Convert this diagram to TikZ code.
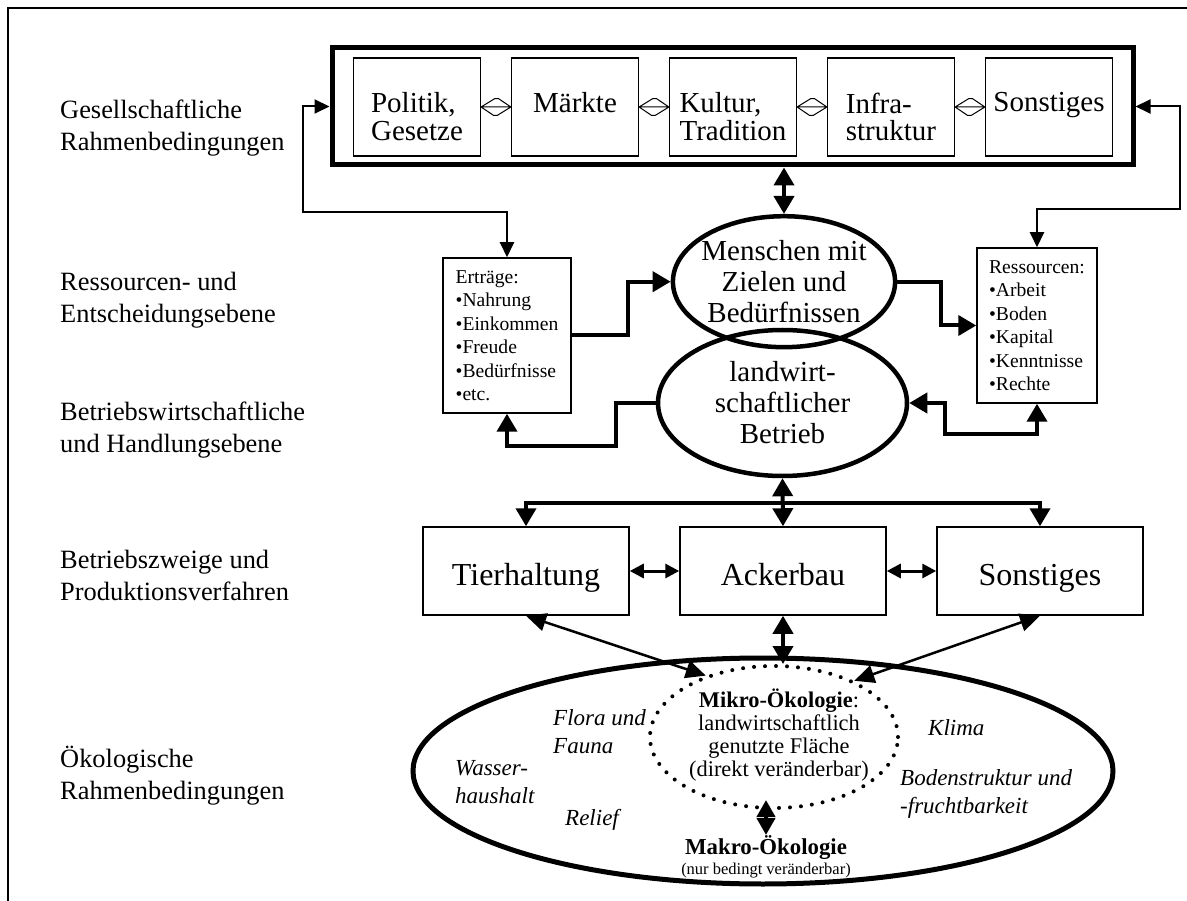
\documentclass[tikz,border=0pt]{standalone}
\usepackage{fontspec}
\setmainfont{Liberation Serif}
\usetikzlibrary{shapes.geometric, arrows.meta}

\tikzset{
  level/.style={anchor=north west, align=left, inner sep=0pt, font=\fontsize{26.4}{31.5}\selectfont},
  outer box/.style={draw, line width=5pt, minimum width=801pt, minimum height=117pt, inner sep=0pt},
  inner box/.style={draw, line width=1.2pt, minimum width=127pt, minimum height=98pt, inner sep=0pt},
  inner text/.style={anchor=north, align=left, inner sep=0pt, font=\fontsize{29}{27.5}\selectfont},
  hollow/.style={line width=1pt, line join=miter,
    to path={-- ++(13.5,-8.3) -- ++(4,0) -- (\tikztotarget) -- ++(-13.5,8.3) -- ++(-4,0) -- cycle
             (\tikztostart) -- (\tikztotarget)}},
  ellipse node/.style={ellipse, draw, line width=4.5pt, align=center, inner sep=0pt, inner xsep=-4pt, font=\fontsize{29}{31}\selectfont},
  list box/.style={draw, line width=1.5pt, align=left, inner sep=0pt, font=\fontsize{19.6}{23.5}\selectfont},
  branch box/.style={draw, line width=1.5pt, minimum width=206pt, minimum height=88pt, inner sep=0pt, text height=28pt, text depth=0pt, font=\fontsize{32}{36}\selectfont},
  eco ellipse/.style={ellipse, draw, line width=5pt, minimum width=700pt, minimum height=226pt},
  micro ellipse/.style={ellipse, draw, line width=4pt, line cap=round, dash pattern=on 0pt off 11pt, minimum width=248pt, minimum height=142pt},
  micro text/.style={anchor=north, align=center, inner sep=0pt, font=\fontsize{22.4}{23}\selectfont},
  makro text/.style={anchor=north, align=center, inner sep=0pt, font=\fontsize{22.8}{20}\selectfont},
  eco label/.style={anchor=north west, align=left, inner sep=0pt, font=\fontsize{23}{28}\selectfont\itshape},
  thick link/.style={line width=4pt},
  thin link/.style={line width=2pt, >={Triangle[length=15pt,width=14pt]}},
  mid link/.style={line width=3pt, >={Triangle[length=14pt,width=14pt]}},
  diag link/.style={line width=2.5pt, >={Triangle[length=20pt,width=18pt]}},
}

\begin{document}
\begin{tikzpicture}[x=1pt, y=-1pt, >={Triangle[length=18pt,width=20pt]}]

\useasboundingbox (0,0) rectangle (1187,901);

% Frame
\draw[line width=2pt] (1187,8) -- (8,8) -- (8,901);

% Level labels
\foreach \m/\l/\y in {gesell/{Gesellschaftliche\\Rahmenbedingungen}/100,
    entscheidung/{Ressourcen- und\\Entscheidungsebene}/272,
    handlung/{Betriebswirtschaftliche\\und Handlungsebene}/402,
    zweige/{Betriebszweige und\\Produktionsverfahren}/550,
    oeko/{Ökologische\\Rahmenbedingungen}/746}
  \node[level] (level-\m) at (60,\y) {\l};

% Gesellschaftliche Rahmenbedingungen
\node[outer box] (rahmen) at (732.5,106.5) {};
\foreach \m/\l [count=\i] in {politik/{Politik,\\Gesetze}, maerkte/{Märkte},
    kultur/{Kultur,\\Tradition}, infra/{Infra-\\struktur}, sonst-top/{Sonstiges}} {
  \node[inner box] (\m) at (417+158*\i-158,107) {};
  \node[inner text] (\m-text) at ([yshift=-35pt]\m.north) {\l};
}
\foreach \a/\b in {politik/maerkte, maerkte/kultur, kultur/infra, infra/sonst-top}
  \draw[hollow] (\a.east) to (\b.west);

% Ressourcen- und Entscheidungsebene
\node[ellipse node, minimum width=208pt, minimum height=131pt] (menschen) at (784,281.7) {Menschen mit\\Zielen und\\Bedürfnissen};
\node[ellipse node, minimum width=249pt, minimum height=146pt] (betrieb) at (782.5,403) {landwirt-\\schaftlicher\\Betrieb};
\node[list box, minimum width=128pt, minimum height=155pt] (ertraege) at (507,335.5) {Erträge:\\•Nahrung\\•Einkommen\\•Freude\\•Bedürfnisse\\•etc.};
\node[list box, minimum width=120pt, minimum height=155pt] (ressourcen) at (1037,325.5) {Ressourcen:\\•Arbeit\\•Boden\\•Kapital\\•Kenntnisse\\•Rechte};

\draw[thin link, <->] (ertraege.north) -- ++(0,-45) -| ([xshift=-27pt]rahmen.west) -- (rahmen.west);
\draw[thin link, <->] (ressourcen.north) -- ++(0,-38) -| ([xshift=44pt]rahmen.east) -- (rahmen.east);
\draw[thick link, <->] (rahmen.south -| menschen.north) -- (menschen.north);
\draw[thick link, ->] (ertraege.east) -- ++(56,0) |- (menschen.west);
\draw[thick link, ->] (menschen.east) -- ++(44,0) |- (ressourcen.west);
\draw[thick link, ->] (betrieb.west) -- ++(-40,0) -- ++(0,43) -| (ertraege.south);
\draw[thick link, <->] (ressourcen.south) -- ++(0,30) -| ([xshift=36pt]betrieb.east) -- (betrieb.east);

% Betriebszweige
\foreach \m/\l/\x in {tier/Tierhaltung/526, acker/Ackerbau/783, sonst/Sonstiges/1040}
  \node[branch box] (\m) at (\x,571) {\l};
\coordinate (split) at (783,503);
\draw[thick link, <->] (betrieb.south) -- (acker.north);
\draw[thick link, ->] (split) -| (tier.north);
\draw[thick link, ->] (split) -| (sonst.north);
\draw[mid link, <->] (tier.east) -- (acker.west);
\draw[mid link, <->] (acker.east) -- (sonst.west);

% Oekologische Rahmenbedingungen
\node[eco ellipse] (oekologie) at (763,771) {};
\node[micro ellipse] (mikro) at (774,737) {};
\node[micro text] (mikro-text) at (779,689) {\textbf{Mikro-Ökologie}:\\landwirtschaftlich\\genutzte Fläche\\(direkt veränderbar)};
\node[makro text] (makro) at (766,835) {\textbf{Makro-Ökologie}\\{\fontsize{16.5}{20}\selectfont(nur bedingt veränderbar)}};
\foreach \m/\l/\x/\y in {flora/{Flora und\\Fauna}/553/709, wasser/{Wasser-\\haushalt}/455/760,
    relief/Relief/565/809, klima/Klima/928/719, boden/{Bodenstruktur und\\-fruchtbarkeit}/900/769}
  \node[eco label] (\m) at (\x,\y) {\l};

\draw[diag link, <->] (tier.south) -- (mikro.138);
\draw[diag link, <->] (sonst.south) -- (mikro.35);
\draw[thick link, <->] (acker.south) -- (acker.south |- mikro.north);
\draw[thick link, {Triangle[length=17pt,width=18pt]}-{Triangle[length=17pt,width=18pt]}] ([yshift=10pt]makro.north |- mikro.south) -- (makro.north);

\end{tikzpicture}
\end{document}
